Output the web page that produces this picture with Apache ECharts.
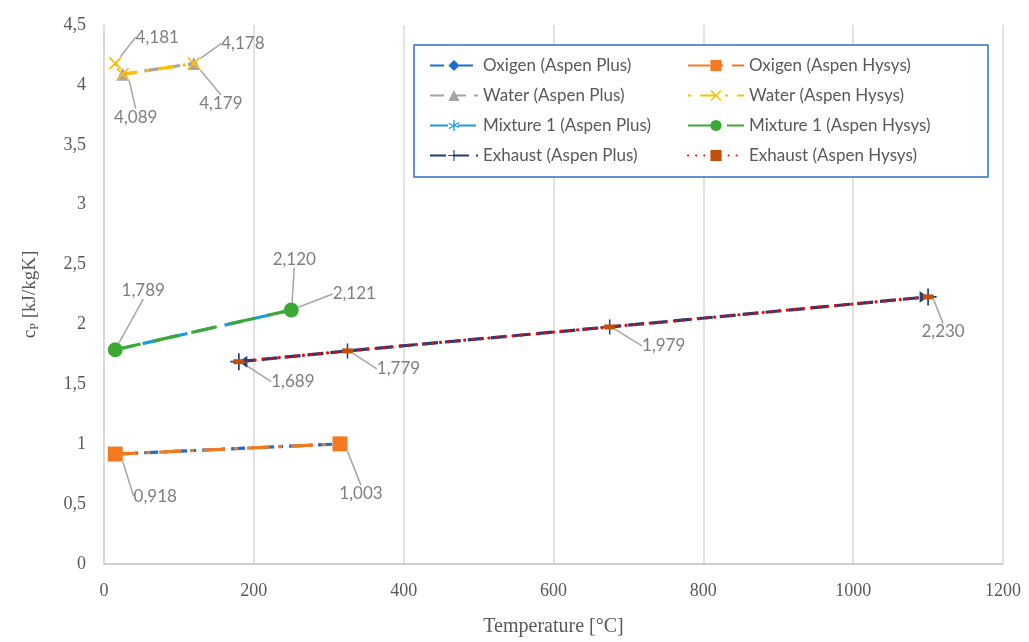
<!DOCTYPE html>
<html><head><meta charset="utf-8">
<script src="https://cdn.jsdelivr.net/npm/echarts@6/dist/echarts.min.js"></script>
<style>html,body{margin:0;padding:0;background:#fff}#c{width:1029px;height:642px}</style>
</head><body><div id="c"></div>
<script>
// ---- data ----
const xTicks = [0, 200, 400, 600, 800, 1000, 1200];
const yTicks = [0, 0.5, 1, 1.5, 2, 2.5, 3, 3.5, 4, 4.5];
const seriesNames = ['Oxigen (Aspen Plus)','Oxigen (Aspen Hysys)','Water (Aspen Plus)','Water (Aspen Hysys)','Mixture 1 (Aspen Plus)','Mixture 1 (Aspen Hysys)','Exhaust (Aspen Plus)','Exhaust (Aspen Hysys)'];
const oxPlusT = [15, 315];           const oxPlusCp = [0.918, 1.003];
const oxHysT = [15, 315];            const oxHysCp = [0.918, 1.003];
const waPlusT = [25, 120];           const waPlusCp = [4.089, 4.179];
const waHysT = [15, 25, 120];        const waHysCp = [4.181, 4.089, 4.178];
const mixPlusT = [15, 250];          const mixPlusCp = [1.789, 2.120];
const mixHysT = [15, 250];           const mixHysCp = [1.789, 2.121];
const exPlusT = [180, 325, 675, 1100]; const exPlusCp = [1.689, 1.779, 1.979, 2.230];
const exHysT = [180, 325, 675, 1100];  const exHysCp = [1.689, 1.779, 1.979, 2.230];

// ---- styling / build ----
const pX = 'path://M2,0L10,8L18,0L20,2L12,10L20,18L18,20L10,12L2,20L0,18L8,10L0,2Z';
const pPlus = 'path://M9,0H11V9H20V11H11V20H9V11H0V9H9Z';
const pAst = 'path://M9,0h2v7.3l6.3-3.6 1,1.7-6.3,3.6 6.3,3.6-1,1.7-6.3-3.6V20h-2v-7.3l-6.3,3.6-1-1.7 6.3-3.6-6.3-3.6 1-1.7 6.3,3.6z';
const pArrowR = 'path://M9,0H11V9H20V11H11V20H9V11H0V9H9ZM0,3L10,10L0,17Z';
const pArrowL = 'path://M9,0H11V9H20V11H11V20H9V11H0V9H9ZM20,3L10,10L20,17Z';
const fmt = v => v.toFixed(3).replace('.', ',');

function build(T, Cp, offsets, extra) {
  return T.map((t, i) => {
    const d = { value: [t, Cp[i]], label: { show: !!(offsets && offsets[i]) } };
    if (extra && extra[i]) Object.assign(d, extra[i]);
    return d;
  });
}
function mk(name, T, Cp, color, lineType, symbol, size, offsets, opts) {
  opts = opts || {};
  return Object.assign({
    name, type: 'line', data: build(T, Cp, offsets, opts.extra),
    symbol, symbolSize: size, showAllSymbol: true,
    lineStyle: { color, width: 3.2, type: lineType, cap: opts.cap || 'butt' },
    itemStyle: { color: opts.markerColor || color },
    label: { show: false, position: 'inside', formatter: p => fmt(p.value[1]),
      color: '#7f7f7f', fontSize: 17, fontFamily: 'Lato, "Noto Sans", sans-serif' },
    labelLine: { show: true, lineStyle: { color: '#a6a6a6', width: 1.5 } },
    labelLayout: offsets ? (p => { const o = offsets[p.dataIndex]; return o ? { dx: o[0], dy: o[1] } : {}; }) : undefined,
    emphasis: { disabled: true }, animation: false
  }, opts.more || {});
}

const series = [
  mk(seriesNames[0], oxPlusT, oxPlusCp, '#1a6ecc', [14, 6, 3, 6], 'diamond', 10, null),
  mk(seriesNames[1], oxHysT, oxHysCp, '#f47a20', [22, 9, 4, 9], 'rect', 15, { 0: [40, 42], 1: [21, 50] }),
  mk(seriesNames[2], waPlusT, waPlusCp, '#a5a5a5', [14, 8], 'triangle', 13, { 0: [13, 43], 1: [27, 40] }),
  mk(seriesNames[3], waHysT, waHysCp, '#ffc000', [3, 9, 16, 9], pX, 13, { 0: [42, -26], 2: [49, -20] }),
  mk(seriesNames[4], mixPlusT, mixPlusCp, '#1e9be0', [18, 10], pAst, 11, { 1: [3, -51] }),
  mk(seriesNames[5], mixHysT, mixHysCp, '#3ca935', [26, 13], 'circle', 15, { 0: [28, -59], 1: [63, -16] }),
  mk(seriesNames[6], exPlusT, exPlusCp, '#1f3f7c', [16, 7], pPlus, 15, null,
     { extra: { 0: { symbol: pArrowL, symbolSize: 17 }, 3: { symbol: pArrowR, symbolSize: 17 } } }),
  mk(seriesNames[7], exHysT, exHysCp, '#ff0000', [0.1, 8], 'rect', [11, 5], { 0: [54, 20], 1: [51, 18], 2: [54, 19], 3: [15, 35] },
     { markerColor: '#c0500a', cap: 'round' })
];

const legendText = { color: '#595959', fontSize: 17, fontFamily: 'Lato, "Noto Sans", sans-serif' };
const chart = echarts.init(document.getElementById('c'), null, { renderer: 'canvas' });
chart.setOption({
  animation: false,
  grid: { left: 104, right: 26, top: 25, bottom: 76 },
  xAxis: {
    type: 'value', min: xTicks[0], max: xTicks[xTicks.length - 1], interval: xTicks[1] - xTicks[0],
    name: 'Temperature [°C]', nameLocation: 'middle', nameGap: 53,
    nameTextStyle: { color: '#595959', fontSize: 20, fontFamily: '"Liberation Serif", serif' },
    axisLine: { show: true, lineStyle: { color: '#bfbfbf', width: 1.5 } },
    axisTick: { show: false },
    axisLabel: { color: '#595959', fontSize: 18, fontFamily: '"Liberation Serif", serif', margin: 18,
      formatter: v => String(v) },
    splitLine: { show: true, lineStyle: { color: '#d9d9d9', width: 1.5 } }
  },
  yAxis: {
    type: 'value', min: yTicks[0], max: yTicks[yTicks.length - 1], interval: yTicks[1] - yTicks[0],
    name: '{a|c}{b|P}{a| [kJ/kgK]}', nameLocation: 'middle', nameGap: 63, nameRotate: 90,
    nameTextStyle: { color: '#595959', rich: {
      a: { fontSize: 19, fontFamily: '"Liberation Serif", serif', color: '#595959', lineHeight: 22 },
      b: { fontSize: 12, fontFamily: '"Liberation Serif", serif', color: '#595959', verticalAlign: 'bottom', lineHeight: 22 } } },
    axisLine: { show: true, lineStyle: { color: '#d9d9d9', width: 1.5 } },
    axisTick: { show: false },
    axisLabel: { color: '#595959', fontSize: 18, fontFamily: '"Liberation Serif", serif', margin: 18,
      formatter: v => String(v).replace('.', ',') },
    splitLine: { show: false }
  },
  graphic: [{ type: 'rect', z: 3, shape: { x: 414, y: 45, width: 574, height: 132 },
    style: { fill: '#fff', stroke: '#2f6fc8', lineWidth: 1.5 } }],
  legend: [
    { data: [seriesNames[0], seriesNames[2], seriesNames[4], seriesNames[6]], orient: 'vertical',
      left: 424, top: 52, itemWidth: 48, itemHeight: 14, itemGap: 13, z: 5, textStyle: legendText },
    { data: [seriesNames[1], seriesNames[3], seriesNames[5], seriesNames[7]], orient: 'vertical',
      left: 682, top: 52, itemWidth: 56, itemHeight: 14, itemGap: 13, z: 5, textStyle: legendText }
  ],
  series
});
</script></body></html>
